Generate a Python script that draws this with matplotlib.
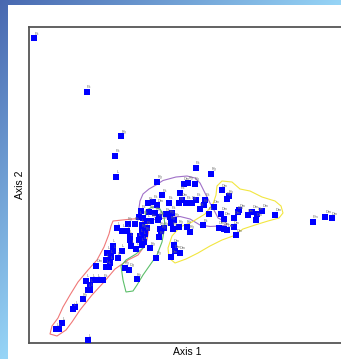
import numpy as np
import matplotlib
matplotlib.use("Agg")
import matplotlib.pyplot as plt
from matplotlib.patches import Polygon

plt.rcParams['font.family'] = ['Liberation Sans', 'DejaVu Sans']

# ordination scores (Axis 1, Axis 2) and site labels
axis1 = [5, 57.7, 92, 86, 87.3, 59.3,
         27, 29.5, 33, 44.3, 46, 53.7, 59.3, 61, 61, 57, 63.7, 68.7, 74.3,
         67, 77, 79.5, 81, 77, 88.7, 83.7, 78.3, 81.7, 84.3, 92.7, 89.3,
         119, 124, 128, 112, 120, 126, 130, 110, 114, 118, 122, 129, 105.5, 98.5,
         112.5, 117.5, 88, 93, 98, 100.5, 101, 112.5, 116, 111, 114, 109.5,
         114.5, 112.5, 107, 102, 121, 127, 130, 130.5, 134.5, 132,
         128, 133, 139.5, 150, 136.5, 142.5, 140.5, 141.5, 145, 149.5, 143.5,
         166.5, 182, 154.5, 159, 165.5, 151, 152.5, 157, 162.5, 167, 176, 174.5,
         170.5, 179.5, 184.5, 157.5, 160.5, 174,
         192.7, 197.5, 199.5, 210, 208.5, 192, 195, 205, 218.5, 223, 228, 233,
         227, 246, 189.5, 194.5, 198, 204.5, 207, 144.5, 145.5, 142, 150.5,
         283.7, 296.3, 302.7,
         95.5, 100, 107.7]
axis2 = [305, 251.3, 207, 187.3, 166.5, 3,
         14, 14, 19.7, 33.7, 35.7, 44, 53, 53.5, 58, 62.3, 63, 63, 63,
         77.3, 76.3, 75.7, 80.3, 83, 84.7, 97.3, 90.3, 86.3, 92, 92.5, 85.3,
         140, 141.5, 138, 132, 131.5, 130, 126, 126, 125.5, 122.5, 122.5, 123.5, 119.5, 119.5,
         118, 115.5, 115, 112.5, 112, 107, 103.5, 113, 109.5, 107.5, 105.5, 103.5,
         101, 98.5, 94.5, 97, 95, 85.5, 106, 114.5, 115, 112,
         161.5, 148, 140.5, 140, 129, 130.5, 126.5, 120.5, 123.5, 116.5, 114.5,
         175.5, 169.5, 159.5, 160.5, 159.5, 150.5, 143.5, 140.5, 140.5, 143.5, 143.5, 138,
         134, 129.5, 136.5, 116.5, 111.5, 118,
         153, 144.5, 147, 133, 131, 129.5, 124.5, 125.5, 128, 131.5, 129.5, 132.5,
         123.5, 128.5, 115.5, 114.5, 113, 116, 108, 98, 92, 86.5, 90.5,
         121.3, 126.3, 124.7,
         75.5, 73.5, 64]
site = ['Pk', 'Pk', 'Pg', 'Pk', 'L', 'L',
        'L', 'L', 'L', 'L', 'L', 'Pg', 'L', 'L', 'L', 'L', 'L', 'L', 'Pk',
        'Dm', 'L', 'L', 'L', 'L', 'L', 'L', 'L', 'L', 'L', 'L', 'L',
        'Pk', 'Pk', 'Dm', 'Pk', 'Pg', 'Pg', 'Pg', 'L', 'Pk', 'L', 'Pg', 'Pg', 'Pg', 'Pg',
        'L', 'Pk', 'L', 'L', 'L', 'L', 'L', 'Pg', 'Pg', 'L', 'L', 'L',
        'L', 'L', 'L', 'L', 'Pg', 'Pg', 'Pg', 'Pg', 'Pg', 'Pg',
        'Pg', 'Pk', 'Pk', 'Pk', 'Pk', 'Pk', 'Pg', 'Pg', 'Pg', 'Pg', 'Pg',
        'Pk', 'Pg', 'Dm', 'Pg', 'Pg', 'Pk', 'Dm', 'Pk', 'Dg', 'Pk', 'Pk', 'Pk',
        'Pk', 'Pk', 'Dm', 'Pg', 'Pg', 'Pk',
        'Dm', 'Pg', 'Pg', 'Dm', 'Bm', 'Dm', 'Dm', 'Dm', 'Dm', 'Dm', 'Dm', 'Dm',
        'Dm', 'Dm', 'Dm', 'Dm', 'Dm', 'Dm', 'Dm', 'Dm', 'Dm', 'Dm', 'Dm',
        'Pm', 'Dm', 'Dm',
        'Pg', 'Dg', 'Pg']

# group outlines (hull-like envelopes)
hull_red = [(84, 122), (98, 123.5), (110, 124.5), (118, 119), (119.5, 111), (117, 99), (109, 88),
            (99, 83), (86, 74), (75, 61), (63, 48), (51, 33), (43, 21), (37, 13), (28, 7), (21, 9),
            (23, 17), (29, 25), (34, 36), (41, 48), (49, 61), (59, 73), (68, 83), (75, 96),
            (80, 109), (82, 117)]
hull_purple = [(110, 135), (111, 142), (114, 149), (120, 154), (127, 158), (134, 162.5), (147, 166),
               (158, 167), (166, 165), (171, 160), (176, 150), (181, 140), (186, 131), (189, 125),
               (196, 121.5), (198, 118), (190, 117), (181, 116.5), (171, 118), (161, 124),
               (151, 126.5), (139, 125.5), (126, 123.5), (117, 123), (111, 127)]
hull_green = [(117, 133), (124, 136), (131, 134), (135, 127), (136, 117), (133, 101), (128, 88),
              (121, 78), (114, 68), (108, 58), (104, 52), (97, 51), (94, 63), (92, 77), (97, 83),
              (107, 89), (114, 95), (117, 105), (116, 121)]
hull_yellow = [(188, 157), (193, 162), (203, 161), (211, 154), (221, 152), (233, 146), (246, 142),
               (252, 137), (254, 130), (250, 125), (239, 122), (226, 118), (214, 114), (204, 107),
               (193, 103), (181, 97), (169, 90), (157, 84), (146, 80), (140, 85), (139, 95),
               (143, 107), (151, 116), (163, 121), (176, 129), (184, 139), (187, 148)]

W, H = 341, 359
fig = plt.figure(figsize=(W / 100, H / 100), dpi=100)

# window background: blue gradient border with white panel
bg = fig.add_axes([0, 0, 1, 1], zorder=-5)
xx, yy = np.meshgrid(np.arange(W) / W, np.arange(H) / H)
t = np.clip(xx + yy, 0, 1)[..., None]
dark = np.array([72, 104, 176]) / 255
light = np.array([150, 212, 246]) / 255
img = dark * (1 - t) + light * t
img[5:, 8:, :] = 1.0
bg.imshow(img, aspect='auto', interpolation='nearest')
bg.axis('off')

ax = fig.add_axes([29 / W, 16 / H, 317 / W, 316 / H])
ax.set_xlim(0, 317)
ax.set_ylim(0, 316)
ax.set_xticks([])
ax.set_yticks([])
for s in ax.spines.values():
    s.set_color('#555555')
    s.set_linewidth(1.3)

for pts, col in [(hull_red, '#f07878'), (hull_purple, '#a070c8'),
                 (hull_green, '#5cbf6a'), (hull_yellow, '#f2e640')]:
    ax.add_patch(Polygon(pts, closed=True, fill=False, edgecolor=col, linewidth=0.8))

ax.scatter(axis1, axis2, marker='s', s=13, color='#0000ff', linewidths=0, zorder=3)
for x, y, lab in zip(axis1, axis2, site):
    ax.annotate(lab, (x, y), xytext=(0.2, 2.4), textcoords='offset points',
                fontsize=2.8, color='#707070', zorder=4)

ax.set_xlabel('Axis 1', fontsize=7.5, labelpad=3)
ax.set_ylabel('Axis 2', fontsize=7.5, labelpad=3)

fig.savefig('out.png', dpi=100)
